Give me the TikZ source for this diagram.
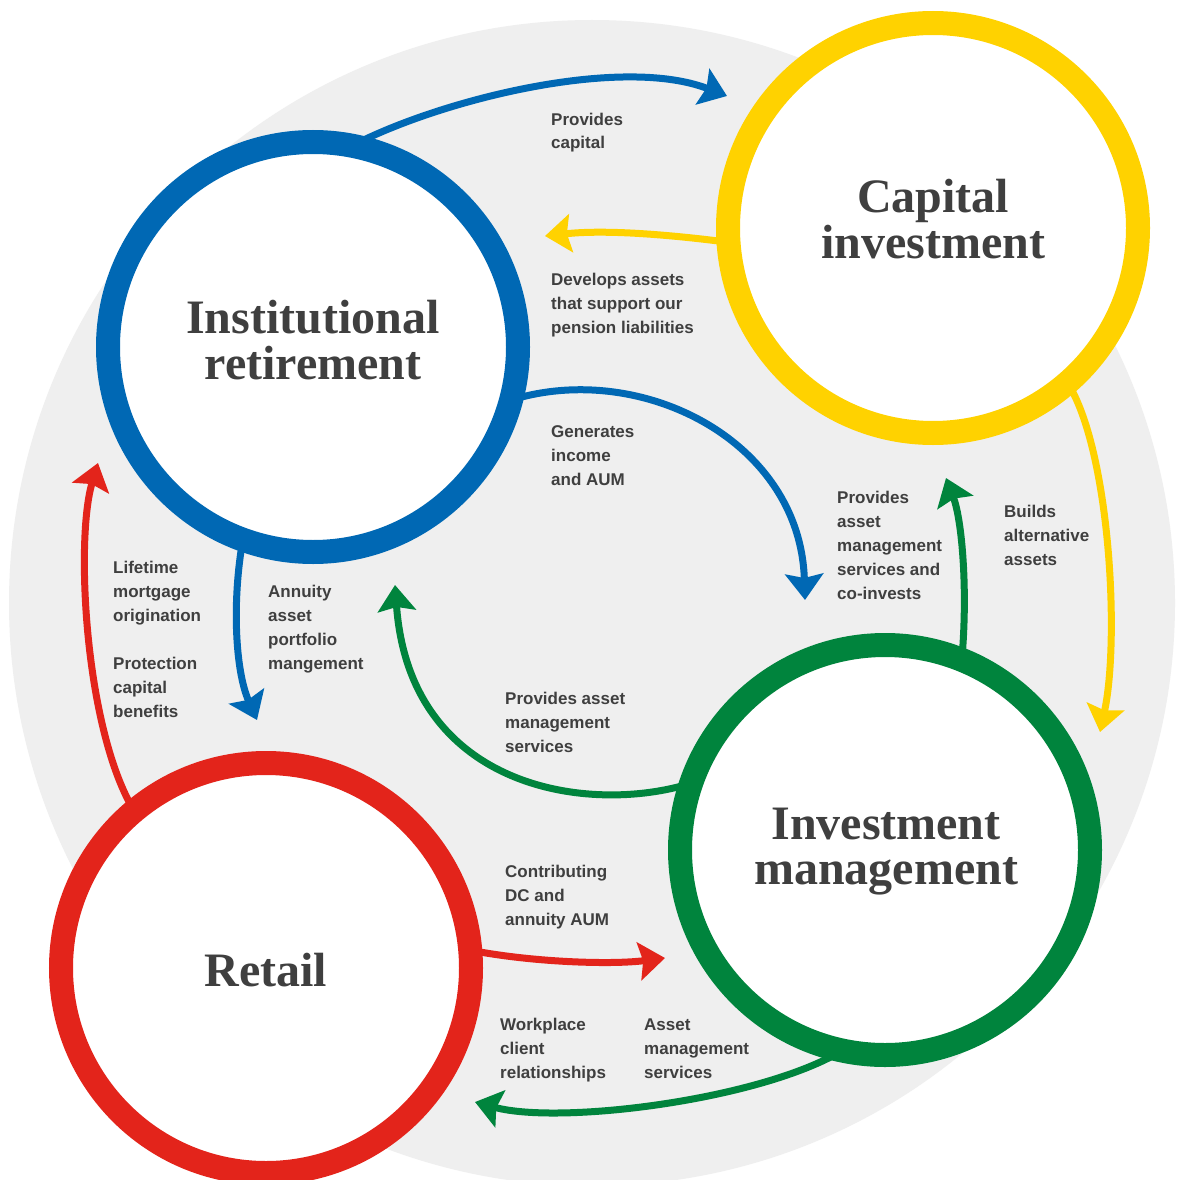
\documentclass[tikz,border=0pt]{standalone}
\usepackage{fontspec}
\setmainfont{Liberation Serif}
\newfontfamily\lblfont{Liberation Sans}
\usetikzlibrary{arrows.meta}
\definecolor{cblue}{HTML}{0068B4}
\definecolor{cyellow}{HTML}{FFD200}
\definecolor{cgreen}{HTML}{00843D}
\definecolor{cred}{HTML}{E3241B}
\definecolor{cgrey}{HTML}{EFEFEF}
\definecolor{ctext}{HTML}{3F3F3F}
\newcommand{\mylines}[1]{\begin{tabular}[t]{@{}l@{}}#1\end{tabular}}
\newcommand{\mytitle}[1]{\begin{tabular}[t]{@{}c@{}}#1\end{tabular}}
\pgfdeclarelayer{backlayer}
\pgfdeclarelayer{midlayer}
\pgfsetlayers{backlayer,midlayer,main}
\tikzset{
  ring/.style={circle, draw, line width=24pt, fill=white, minimum size=410pt, inner sep=0pt, outer sep=0pt},
  conn/.style={line width=7pt, -{Stealth[length=26pt,width=38pt,inset=4pt]}},
  lbl/.style={anchor=base west, inner sep=0pt, text=ctext, font=\fontsize{17}{24}\selectfont\lblfont\bfseries},
  ttl/.style={anchor=base, inner sep=0pt, text=ctext, font=\fontsize{48}{45}\selectfont\bfseries}
}
\begin{document}
\begin{tikzpicture}[x=1pt,y=-1pt]
\useasboundingbox (0,0) rectangle (1183,1180);
\begin{pgfonlayer}{backlayer}
  \fill[white] (0,0) rectangle (1183,1180);
  \begin{scope}
    \clip (0,0) rectangle (1183,1180);
    \fill[cgrey] (592,603) circle[radius=583];
  \end{scope}
\end{pgfonlayer}

% rings
\node[ring, draw=cblue]   (ir) at (313,347) {};
\node[ring, draw=cyellow] (ci) at (933,228) {};
\node[ring, draw=cgreen]  (im) at (885,850) {};
\node[ring, draw=cred]    (rt) at (266,968) {};

% titles
\node[ttl] (irT) at (313,333) {\mytitle{Institutional\\retirement}};
\node[ttl] (ciT) at (933,212) {\mytitle{Capital\\investment}};
\node[ttl] (imT) at (886,839) {\mytitle{Investment\\management}};
\node[ttl] (rtT) at (266,986) {Retail};

% arrow end points
\coordinate (t1) at (727,96);
\coordinate (t2) at (545,236);
\coordinate (t3) at (805,600);
\coordinate (t4) at (946,478);
\coordinate (t5) at (1100,732);
\coordinate (t6) at (395,585);
\coordinate (t7) at (257,720);
\coordinate (t8) at (98,463);
\coordinate (t9) at (665,958);
\coordinate (t10) at (475,1102);

\begin{pgfonlayer}{midlayer}
  \draw[conn, cblue]   (ir.79) .. controls (440,100) and (620,55) .. (t1);
  \draw[conn, cyellow] (ci.184.5) .. controls (680,236) and (610,229) .. (t2);
  \draw[conn, cblue]   (ir.-15) .. controls (640,360) and (800,440) .. (t3);
  \draw[conn, cgreen]  (im.68.5) .. controls (968,590) and (962,520) .. (t4);
  \draw[conn, cyellow] (ci.-49) .. controls (1110,450) and (1120,640) .. (t5);
  \draw[conn, cgreen]  (im.161) .. controls (590,815) and (410,790) .. (t6);
  \draw[conn, cblue]   (ir.-110.7) .. controls (232,600) and (235,670) .. (t7);
  \draw[conn, cred]    (rt.130) .. controls (85,730) and (75,540) .. (t8);
  \draw[conn, cred]    (rt.5.6) .. controls (530,962) and (610,965) .. (t9);
  \draw[conn, cgreen]  (im.-102) .. controls (760,1100) and (560,1125) .. (t10);
\end{pgfonlayer}

% labels
\node[lbl] (l1)  at (551,125)  {\mylines{Provides\\capital}};
\node[lbl] (l2)  at (551,285)  {\mylines{Develops assets\\that support our\\pension liabilities}};
\node[lbl] (l3)  at (551,437)  {\mylines{Generates\\income\\and AUM}};
\node[lbl] (l4)  at (837,503)  {\mylines{Provides\\asset\\management\\services and\\co-invests}};
\node[lbl] (l5)  at (1004,517) {\mylines{Builds\\alternative\\assets}};
\node[lbl] (l6)  at (113,573)  {\mylines{Lifetime\\mortgage\\origination}};
\node[lbl] (l7)  at (113,669)  {\mylines{Protection\\capital\\benefits}};
\node[lbl] (l8)  at (268,597)  {\mylines{Annuity\\asset\\portfolio\\mangement}};
\node[lbl] (l9)  at (505,704)  {\mylines{Provides asset\\management\\services}};
\node[lbl] (l10) at (505,877)  {\mylines{Contributing\\DC and\\annuity AUM}};
\node[lbl] (l11) at (500,1030) {\mylines{Workplace\\client\\relationships}};
\node[lbl] (l12) at (644,1030) {\mylines{Asset\\management\\services}};
\end{tikzpicture}
\end{document}
